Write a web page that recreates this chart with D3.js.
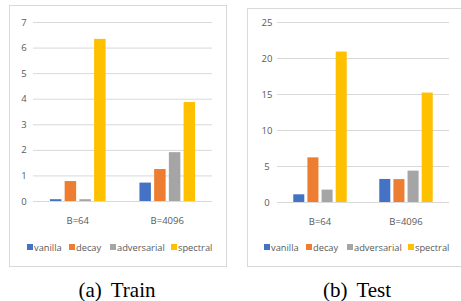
<!DOCTYPE html>
<html>
<head>
<meta charset="utf-8">
<script src="https://cdn.jsdelivr.net/npm/d3@7"></script>
<style>
  body { margin: 0; background: #fff; }
  text { font-family: "Open Sans", "Liberation Sans", sans-serif; }
  .tick text { fill: #595959; font-size: 9.5px; }
  .legend text { fill: #595959; font-size: 9.3px; }
  .caption { font-family: "Liberation Serif", "DejaVu Serif", serif; font-size: 21px; fill: #000; }
</style>
</head>
<body>
<svg width="461" height="301"></svg>
<script>
// batch sizes on the x axis
var categories = ["B=64", "B=4096"];
var methods = ["vanilla", "decay", "adversarial", "spectral"];
var colors = ["#4472C4", "#ED7D31", "#A5A5A5", "#FFC000"];

// values per method, one per category
var trainVanilla = [0.07, 0.72];
var trainDecay = [0.78, 1.25];
var trainAdversarial = [0.07, 1.91];
var trainSpectral = [6.34, 3.87];

var testVanilla = [1.07, 3.2];
var testDecay = [6.2, 3.18];
var testAdversarial = [1.72, 4.36];
var testSpectral = [20.9, 15.2];

var trainTicks = [0, 1, 2, 3, 4, 5, 6, 7];
var testTicks = [0, 5, 10, 15, 20, 25];

var svg = d3.select("svg");

function drawPanel(opts) {
  var g = svg.append("g");

  g.append("rect")
    .attr("x", opts.box[0] + 0.5).attr("y", opts.box[1] + 0.5)
    .attr("width", opts.box[2]).attr("height", opts.box[3])
    .attr("fill", "#fff").attr("stroke", "#d9d9d9");

  var x = d3.scaleBand().domain(categories).range(opts.xr);
  var x1 = d3.scaleBand().domain(methods).range([0, x.bandwidth()])
    .paddingInner(0.22).paddingOuter(1.15);
  var y = d3.scaleLinear().domain([0, d3.max(opts.ticks)]).range(opts.yr);

  // gridlines + labels
  var yAxis = g.append("g")
    .attr("transform", "translate(" + opts.xr[0] + ",0)")
    .call(d3.axisLeft(y).tickValues(opts.ticks).tickFormat(d3.format("d"))
      .tickSize(-(opts.xr[1] - opts.xr[0])).tickPadding(opts.pad));
  yAxis.select(".domain").remove();
  yAxis.selectAll(".tick line").attr("stroke", "#d9d9d9");
  yAxis.selectAll(".tick text").attr("text-anchor", "middle");

  var rows = categories.map(function(c, i) {
    return { cat: c, vals: opts.series.map(function(s) { return s[i]; }) };
  });

  g.selectAll(".grp").data(rows).enter().append("g")
    .attr("transform", function(d) { return "translate(" + x(d.cat) + ",0)"; })
    .selectAll("rect")
    .data(function(d) { return d.vals.map(function(v, j) { return { m: methods[j], v: v, c: colors[j] }; }); })
    .enter().append("rect")
      .attr("x", function(d) { return x1(d.m); })
      .attr("width", x1.bandwidth())
      .attr("y", function(d) { return y(d.v); })
      .attr("height", function(d) { return y(0) - y(d.v); })
      .attr("fill", function(d) { return d.c; });

  var xAxis = g.append("g")
    .attr("transform", "translate(0," + opts.yr[0] + ")")
    .call(d3.axisBottom(x).tickSize(0).tickPadding(16));
  xAxis.select(".domain").remove();

  // legend
  var leg = g.append("g").attr("class", "legend");
  methods.forEach(function(m, i) {
    var lx = opts.legendX[i];
    leg.append("rect").attr("x", lx).attr("y", 244).attr("width", 6).attr("height", 6).attr("fill", colors[i]);
    leg.append("text").attr("x", lx + 7).attr("y", 250.5).text(m);
  });

  var cap = svg.append("text").attr("class", "caption")
    .attr("x", opts.capX).attr("y", 297).attr("text-anchor", "middle");
  cap.append("tspan").text(opts.caption[0]);
  cap.append("tspan").attr("dx", 9).text(opts.caption[1]);
}

drawPanel({
  box: [9, 5, 217, 261],
  xr: [33, 212], yr: [201, 22],
  ticks: trainTicks, pad: 9,
  series: [trainVanilla, trainDecay, trainAdversarial, trainSpectral],
  legendX: [27, 69, 110, 171],
  caption: ["(a)", "Train"], capX: 117
});

drawPanel({
  box: [247, 8, 220, 258],
  xr: [277, 449], yr: [202, 22],
  ticks: testTicks, pad: 10,
  series: [testVanilla, testDecay, testAdversarial, testSpectral],
  legendX: [264, 306, 347, 408],
  caption: ["(b)", "Test"], capX: 357
});
</script>
</body>
</html>
